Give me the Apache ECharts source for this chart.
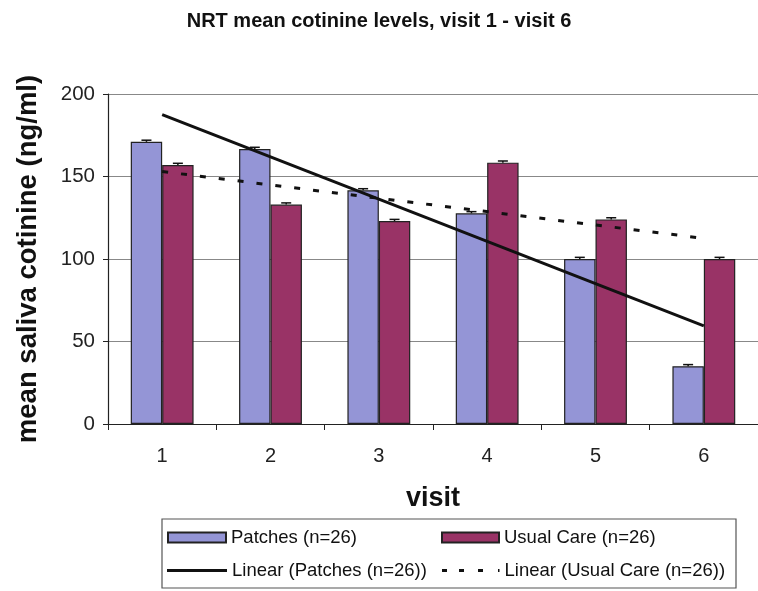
<!DOCTYPE html>
<html><head><meta charset="utf-8">
<script src="https://cdn.jsdelivr.net/npm/echarts@6/dist/echarts.min.js"></script>
<style>html,body{margin:0;padding:0;background:#fff}#c{width:758px;height:591px}</style>
</head><body><div id="c"></div>
<script>
const categories = ['1','2','3','4','5','6'];
const patches = [171, 166.7, 141.6, 127.7, 100, 35];
const usualCare = [157, 133, 123, 158.4, 124, 100];
const patchesErr = [1, 1, 1, 1, 1, 1];
const usualErr = [1, 1, 1, 1, 1, 1];
const patchesTrend = [187.5, null, null, null, null, 59.5];
const usualTrend = [153, null, null, null, null, 112.5];
const yTicks = {min: 0, max: 200, interval: 50};

const FONT = '"Liberation Sans", Arial, sans-serif';
const chart = echarts.init(document.getElementById('c'));

function errData(vals, errs, side) {
  return vals.map((v, i) => [i, v, errs[i], side]);
}
function renderErr(params, api) {
  const i = api.value(0), v = api.value(1), e = api.value(2), side = api.value(3);
  const band = api.size([1, 0])[0];
  const bw = band * (1 - 0.42) / 2;
  const c = api.coord([i, v + e]);
  const cx = c[0] + side * bw / 2;
  const top = api.coord([i, v]);
  return {
    type: 'group',
    children: [
      {type: 'line', shape: {x1: cx, y1: top[1], x2: cx, y2: c[1]}, style: {stroke: '#111', lineWidth: 1.5}},
      {type: 'line', shape: {x1: cx - 5, y1: c[1], x2: cx + 5, y2: c[1]}, style: {stroke: '#111', lineWidth: 1.5}}
    ]
  };
}

const legendText = {fontFamily: FONT, fontSize: 18.5, color: '#111'};
const dashIcon = 'path://M0,0h5v3h-5z M17,0h5v3h-5z M36,0h5v3h-5z M56,0h1.5v3h-1.5z';
chart.setOption({
  animation: false,
  title: {
    text: 'NRT mean cotinine levels, visit 1 - visit 6',
    left: 'center', top: 6,
    textStyle: {fontFamily: FONT, fontSize: 20, fontWeight: 'bold', color: '#111'}
  },
  grid: {left: 108, top: 94, right: -9, bottom: 167},
  legend: [
    {data: ['Patches (n=26)'], left: 167, top: 528, icon: 'rect', itemWidth: 58, itemHeight: 10, textStyle: legendText, padding: 0},
    {data: ['Usual Care (n=26)'], left: 441, top: 528, icon: 'rect', itemWidth: 57, itemHeight: 10, textStyle: legendText, padding: 0},
    {data: ['Linear (Patches (n=26))'], left: 167, top: 561, icon: 'rect', itemWidth: 60, itemHeight: 3, textStyle: legendText, padding: 0},
    {data: ['Linear (Usual Care (n=26))'], left: 442, top: 561, icon: dashIcon, symbolKeepAspect: false, itemWidth: 57.5, itemHeight: 3, textStyle: legendText, padding: 0}
  ],
  graphic: [{type: 'rect', shape: {x: 162, y: 519, width: 574, height: 69}, style: {fill: 'none', stroke: '#555', lineWidth: 1.2}}],
  xAxis: {
    type: 'category', data: categories,
    name: 'visit', nameLocation: 'middle', nameGap: 61,
    nameTextStyle: {fontFamily: FONT, fontSize: 27, fontWeight: 'bold', color: '#111'},
    axisLine: {lineStyle: {color: '#222', width: 1.2}},
    axisTick: {show: true, alignWithLabel: false, length: 6, lineStyle: {color: '#222'}},
    axisLabel: {fontFamily: FONT, fontSize: 20, color: '#222', margin: 22}
  },
  yAxis: {
    type: 'value', min: yTicks.min, max: yTicks.max, interval: yTicks.interval,
    name: 'mean saliva cotinine (ng/ml)', nameLocation: 'middle', nameGap: 66,
    nameTextStyle: {fontFamily: FONT, fontSize: 27.5, fontWeight: 'bold', color: '#111'},
    axisLine: {show: true, lineStyle: {color: '#222', width: 1.2}},
    axisTick: {show: true, length: 5, lineStyle: {color: '#222'}},
    axisLabel: {fontFamily: FONT, fontSize: 20.5, color: '#222', margin: 13},
    splitLine: {lineStyle: {color: '#888', width: 1.2}}
  },
  series: [
    {name: 'Patches (n=26)', type: 'bar', data: patches, barGap: '0%', barCategoryGap: '42%',
     itemStyle: {color: '#9495d6', borderColor: '#222', borderWidth: 1.2}},
    {name: 'Usual Care (n=26)', type: 'bar', data: usualCare, barGap: '0%', barCategoryGap: '42%',
     itemStyle: {color: '#993366', borderColor: '#222', borderWidth: 1.2}},
    {name: 'errP', type: 'custom', renderItem: renderErr, data: errData(patches, patchesErr, -1), z: 5},
    {name: 'errU', type: 'custom', renderItem: renderErr, data: errData(usualCare, usualErr, 1), z: 5},
    {name: 'Linear (Patches (n=26))', type: 'line', data: patchesTrend, connectNulls: true, symbol: 'none',
     lineStyle: {color: '#111', width: 3}, itemStyle: {color: '#111'}, z: 6},
    {name: 'Linear (Usual Care (n=26))', type: 'line', data: usualTrend, connectNulls: true, symbol: 'none',
     lineStyle: {color: '#111', width: 3, type: [6, 13]}, itemStyle: {color: '#111'}, z: 6}
  ]
});
</script></body></html>
